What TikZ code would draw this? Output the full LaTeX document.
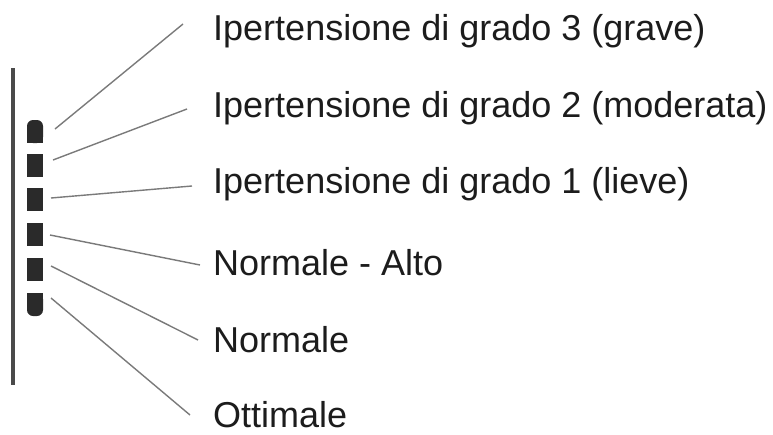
\documentclass[tikz,border=0pt]{standalone}
\usepackage{fontspec}
\setmainfont{Liberation Sans}
\definecolor{barc}{HTML}{4A4A4A}
\definecolor{blockc}{HTML}{2A2A2A}
\definecolor{linec}{HTML}{7A7A7A}
\definecolor{textc}{HTML}{1C1C1C}
\tikzset{
  lbl/.style={anchor=base west, inner sep=0pt, text=textc, font=\fontsize{36}{40}\selectfont},
  conn/.style={draw=linec, line width=1.4pt},
  blockbox/.style={fill=blockc, draw=none, minimum width=16pt, minimum height=23pt, inner sep=0pt},
}
\begin{document}
\begin{tikzpicture}[x=1pt,y=-1pt]
\useasboundingbox (0,0) rectangle (773,434);
% scale bar
\draw[barc, line width=4pt] (12.5,68) -- (12.5,385);
% indicator blocks
\fill[blockc, rounded corners=6pt] (27,120) rectangle (43,143);
\fill[blockc] (27,132) rectangle (43,143);
\node[blockbox] (b2) at (35,165) {};
\node[blockbox] (b3) at (35,199) {};
\node[blockbox] (b4) at (35,234) {};
\node[blockbox] (b5) at (35,269.5) {};
\fill[blockc, rounded corners=6pt] (27,293) rectangle (43,316);
\fill[blockc] (27,293) rectangle (43,304);
% labels
\node[lbl] (t1) at (213,40) {Ipertensione di grado 3 (grave)};
\node[lbl] (t2) at (213,117) {Ipertensione di grado 2 (moderata)};
\node[lbl] (t3) at (213,193) {Ipertensione di grado 1 (lieve)};
\node[lbl] (t4) at (213,275) {Normale - Alto};
\node[lbl] (t5) at (213,352) {Normale};
\node[lbl] (t6) at (213,427) {Ottimale};
% connector ends
\coordinate (s1) at (55,129);  \coordinate (e1) at (183,24);
\coordinate (s2) at (53,160);  \coordinate (e2) at (187,109);
\coordinate (s3) at (51,198);  \coordinate (e3) at (192,186);
\coordinate (s4) at (50,235);  \coordinate (e4) at (200,265);
\coordinate (s5) at (51,266);  \coordinate (e5) at (198,340);
\coordinate (s6) at (51,298);  \coordinate (e6) at (190,415);
\draw[conn] (s1) -- (e1);
\draw[conn] (s2) -- (e2);
\draw[conn] (s3) -- (e3);
\draw[conn] (s4) -- (e4);
\draw[conn] (s5) -- (e5);
\draw[conn] (s6) -- (e6);
\end{tikzpicture}
\end{document}
